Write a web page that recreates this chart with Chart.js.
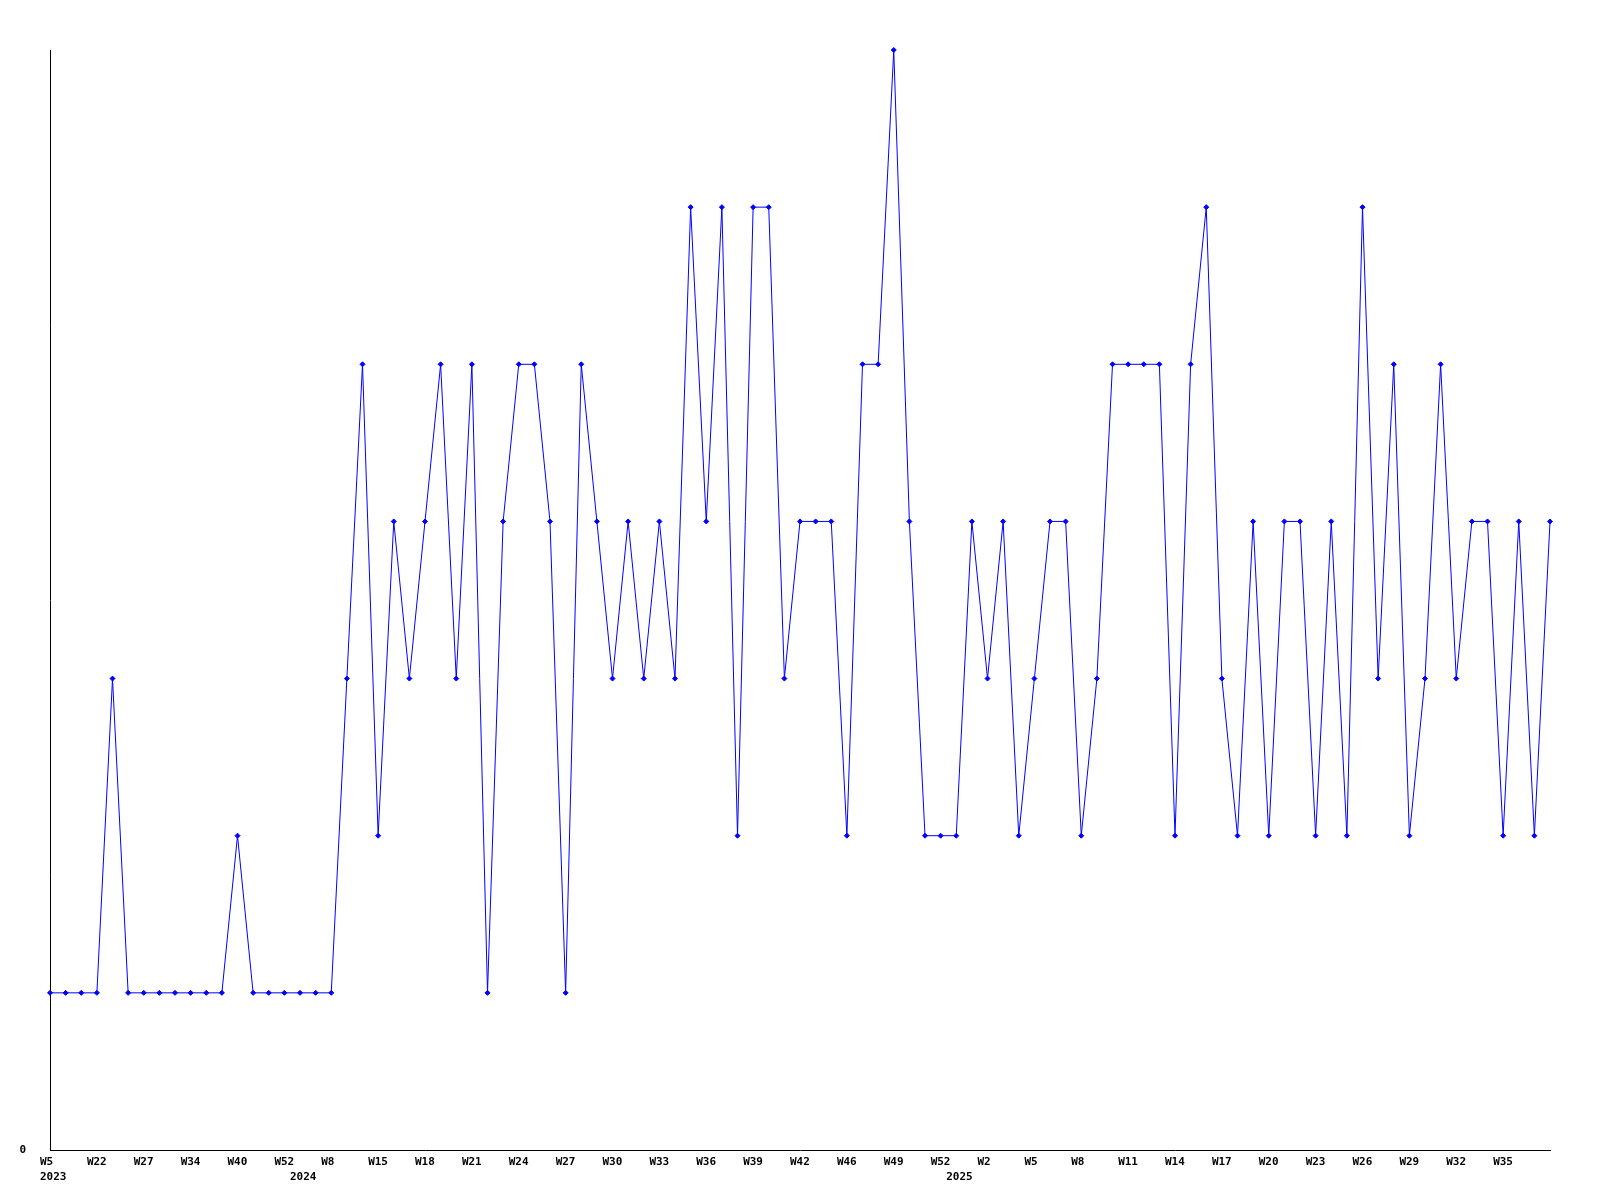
<!DOCTYPE html>
<html>
<head>
<meta charset="utf-8">
<title>Weekly count</title>
<script src="https://cdn.jsdelivr.net/npm/chart.js@4.4.1/dist/chart.umd.min.js"></script>
<style>
  html, body { margin: 0; padding: 0; background: #fff; }
  canvas { display: block; }
</style>
</head>
<body>
<canvas id="weekChart" width="1600" height="1200"></canvas>
<script>
/* ============================================================
   Weekly series, 2023-W5 .. 2025-W38
============================================================ */

// categories: year-week of every point
const WEEKS = [
  '2023-W5', '2023-W13', '2023-W18', '2023-W22', '2023-W24', '2023-W25', '2023-W27', '2023-W30', '2023-W32', '2023-W34',
  '2023-W36', '2023-W38', '2023-W40', '2023-W44', '2023-W48', '2023-W52',
  '2024-W1', '2024-W4', '2024-W8', '2024-W11',
  '2024-W13', '2024-W15', '2024-W16', '2024-W17', '2024-W18', '2024-W19', '2024-W20', '2024-W21', '2024-W22', '2024-W23',
  '2024-W24', '2024-W25', '2024-W26', '2024-W27', '2024-W28', '2024-W29', '2024-W30', '2024-W31', '2024-W32', '2024-W33',
  '2024-W34', '2024-W35', '2024-W36', '2024-W37', '2024-W38', '2024-W39', '2024-W40', '2024-W41', '2024-W42', '2024-W43',
  '2024-W45', '2024-W46', '2024-W47', '2024-W48', '2024-W49', '2024-W50', '2024-W51', '2024-W52',
  '2025-W0', '2025-W1',
  '2025-W2', '2025-W3', '2025-W4', '2025-W5', '2025-W6', '2025-W7', '2025-W8', '2025-W9', '2025-W10', '2025-W11',
  '2025-W12', '2025-W13', '2025-W14', '2025-W15', '2025-W16', '2025-W17', '2025-W18', '2025-W19', '2025-W20', '2025-W21',
  '2025-W22', '2025-W23', '2025-W24', '2025-W25', '2025-W26', '2025-W27', '2025-W28', '2025-W29', '2025-W30', '2025-W31',
  '2025-W32', '2025-W33', '2025-W34', '2025-W35', '2025-W36', '2025-W37', '2025-W38'
];

// series values
const COUNTS = [
  1, 1, 1, 1, 3, 1, 1, 1, 1, 1,
  1, 1, 2, 1, 1, 1, 1, 1, 1, 3,
  5, 2, 4, 3, 4, 5, 3, 5, 1, 4,
  5, 5, 4, 1, 5, 4, 3, 4, 3, 4,
  3, 6, 4, 6, 2, 6, 6, 3, 4, 4,
  4, 2, 5, 5, 7, 4, 2, 2, 2, 4,
  3, 4, 2, 3, 4, 4, 2, 3, 5, 5,
  5, 5, 2, 5, 6, 3, 2, 4, 2, 4,
  4, 2, 4, 2, 6, 3, 5, 2, 3, 5,
  3, 4, 4, 2, 4, 2, 4
];

// y range and the only labelled y tick
const Y_MIN = 0;
const Y_MAX = 7;
const Y_TICKS_SHOWN = [0];

const LABEL_EVERY = 3;

const AXIS_FONT = { family: "'DejaVu Sans Mono', monospace", size: 11, weight: 'bold', lineHeight: 15 / 11 };

function weekTick(value, i) {
  const [yr, wk] = WEEKS[i].split('-');
  const prevYr = i > 0 ? WEEKS[i - 1].split('-')[0] : null;
  // the last point gets no week label
  const showWeek = i % LABEL_EVERY === 0 && i < WEEKS.length - 1;
  const showYear = yr !== prevYr;
  if (!showWeek && !showYear) return '';
  return [showWeek ? wk : '', showYear ? yr : ''];
}

new Chart(document.getElementById('weekChart'), {
  type: 'line',
  data: {
    labels: WEEKS,
    datasets: [{
      data: COUNTS,
      borderColor: '#0000ff',
      backgroundColor: '#0000ff',
      borderWidth: 1,
      pointStyle: 'rectRot',
      pointRadius: 2.5,
      pointBorderWidth: 1,
      tension: 0,
      fill: false,
      clip: false,
    }]
  },
  options: {
    responsive: false,
    animation: false,
    layout: { padding: { top: 50, right: 50, left: 0, bottom: 0 } },
    plugins: {
      legend: { display: false },
      tooltip: { enabled: false }
    },
    scales: {
      x: {
        offset: false,
        grid: { display: false, drawTicks: false },
        border: { display: true, color: '#000', width: 1 },
        afterFit: s => { s.height = 50; },
        ticks: {
          autoSkip: false,
          maxRotation: 0,
          minRotation: 0,
          align: 'start',
          labelOffset: -10,
          padding: 5,
          color: '#000',
          font: AXIS_FONT,
          callback: weekTick
        }
      },
      y: {
        min: Y_MIN,
        max: Y_MAX,
        grid: { display: false, drawTicks: false },
        border: { display: true, color: '#000', width: 1 },
        afterFit: s => { s.width = 50; },
        ticks: {
          stepSize: 1,
          padding: 24,
          color: '#000',
          font: AXIS_FONT,
          callback: v => Y_TICKS_SHOWN.includes(v) ? String(v) : ''
        }
      }
    }
  }
});
</script>
</body>
</html>
